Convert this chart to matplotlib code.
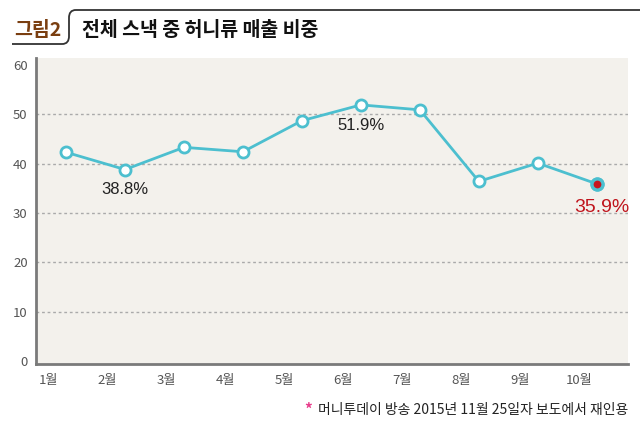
import matplotlib
matplotlib.use("Agg")
from matplotlib import pyplot as plt
from matplotlib.path import Path
from matplotlib.patches import PathPatch

plt.rcParams['font.family'] = ['Noto Sans CJK KR', 'DejaVu Sans']

# data
months = ['1월', '2월', '3월', '4월', '5월', '6월', '7월', '8월', '9월', '10월']
share = [42.3, 38.8, 43.3, 42.4, 48.7, 51.9, 50.9, 36.4, 40.1, 35.9]
yticks = [0, 10, 20, 30, 40, 50, 60]

W, H = 640, 429
LINE = '#4cbfcf'
NUMFONT = ['Liberation Sans Narrow', 'Liberation Sans', 'DejaVu Sans']


def fx(x):
    return x / W


def fy(y):
    return 1 - y / H


fig = plt.figure(figsize=(6.4, 4.29), dpi=100)
fig.patch.set_facecolor('white')

ax = fig.add_axes([fx(36), fy(364), fx(628) - fx(36), fy(58) - fy(364)])
ax.set_facecolor('#f3f1ec')

xs = list(range(len(share)))
ax.plot(xs, share, color=LINE, lw=2, marker='o', ms=8,
        mfc='white', mec=LINE, mew=2, zorder=3)
# last point highlighted
ax.plot(xs[-1], share[-1], marker='o', ms=8, mfc='#c8141e', mec=LINE,
        mew=2.4, zorder=4)

ax.set_xlim(-0.51, 9.53)
ax.set_ylim(-0.6, 61.4)
ax.set_yticks(yticks)
ax.set_yticklabels([str(v) for v in yticks])
ax.set_xticks([x - 0.3 for x in xs])
ax.set_xticklabels(months)
ax.tick_params(length=0, labelsize=9.5, labelcolor='#555555')
ax.tick_params(axis='y', pad=6)
ax.tick_params(axis='x', pad=7)

for v in yticks[1:-1]:
    ax.axhline(v, color='#aaaaaa', lw=1, ls=(0, (2, 2)), zorder=1)

for s in ['top', 'right']:
    ax.spines[s].set_visible(False)
for s in ['left', 'bottom']:
    ax.spines[s].set_color('#7a7a7a')
    ax.spines[s].set_linewidth(2)

# value labels
ax.text(xs[1], share[1] - 2.6, '38.8%', ha='center', va='top',
        fontsize=12, color='#222222', family=NUMFONT)
ax.text(xs[5], share[5] - 2.6, '51.9%', ha='center', va='top',
        fontsize=12, color='#222222', family=NUMFONT)
ax.text(xs[9] + 0.08, share[9] - 3.0, '35.9%', ha='center', va='top',
        fontsize=14, color='#c0141c', family=NUMFONT)

# title
fig.text(fx(14), fy(30), '그림2', fontsize=14, fontweight='bold',
         color='#7a3e10', va='center', ha='left')
fig.text(fx(82), fy(30), '전체 스낵 중 허니류 매출 비중', fontsize=14,
         fontweight='bold', color='#111111', va='center', ha='left')

pts = [(12, 44), (62, 44), (67, 44), (69, 41), (69, 36), (69, 18),
       (69, 13), (71, 10), (76, 10), (640, 10)]
codes = [Path.MOVETO, Path.LINETO, Path.CURVE4, Path.CURVE4, Path.CURVE4,
         Path.LINETO, Path.CURVE4, Path.CURVE4, Path.CURVE4, Path.LINETO]
path = Path([(fx(x), fy(y)) for x, y in pts], codes)
fig.add_artist(PathPatch(path, fill=False, edgecolor='#333333', lw=1.3,
                         transform=fig.transFigure))

# footnote
fig.text(fx(628), fy(410), '머니투데이 방송 2015년 11월 25일자 보도에서 재인용',
         fontsize=10, color='#222222', ha='right', va='center')
fig.text(fx(308), fy(410), '*', fontsize=11, color='#e83e8c',
         ha='center', va='center', fontweight='bold')

fig.savefig('out.png', dpi=100, facecolor='white')
